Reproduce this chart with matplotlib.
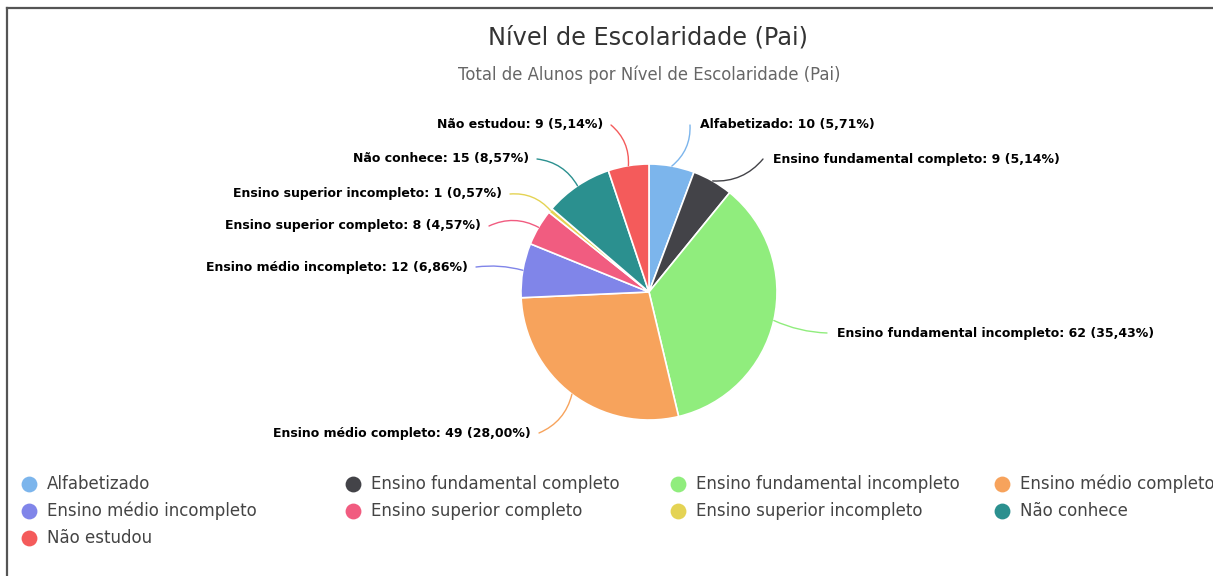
import numpy as np
import matplotlib.pyplot as plt
from matplotlib.lines import Line2D

# ====================== dados ======================
categorias = ['Alfabetizado', 'Ensino fundamental completo', 'Ensino fundamental incompleto',
              'Ensino médio completo', 'Ensino médio incompleto', 'Ensino superior completo',
              'Ensino superior incompleto', 'Não conhece', 'Não estudou']
alunos = [10, 9, 62, 49, 12, 8, 1, 15, 9]
cores = ['#7cb5ec', '#434348', '#90ed7d', '#f7a35c', '#8085e9', '#f15c80',
         '#e4d354', '#2b908f', '#f45b5b']

titulo = 'Nível de Escolaridade (Pai)'
subtitulo = 'Total de Alunos por Nível de Escolaridade (Pai)'

# posição dos rótulos (pixels) e alinhamento
rot_pos = [(700, 125, 'left'), (773, 159, 'left'), (837, 333, 'left'),
           (531, 433, 'right'), (468, 267, 'right'), (481, 226, 'right'),
           (502, 194, 'right'), (529, 159, 'right'), (603, 125, 'right')]
rot_rad = [-0.25, -0.25, -0.1, 0.25, -0.1, -0.25, -0.25, -0.25, -0.25]

W, H = 1213, 576
fig = plt.figure(figsize=(W / 100, H / 100), dpi=100)
ax = fig.add_axes([0, 0, 1, 1])

cx, cy, r = 649, 292, 128
total = sum(alunos)
# eixo y invertido: startangle=-90 fica no topo e o sentido fica horário
wedges, _ = ax.pie(alunos, colors=cores, startangle=-90, counterclock=True,
                   center=(cx, cy), radius=r, frame=True,
                   wedgeprops=dict(edgecolor='white', linewidth=1.2))
ax.set_xlim(0, W)
ax.set_ylim(H, 0)
ax.axis('off')

for i, w in enumerate(wedges):
    ang = np.deg2rad((w.theta1 + w.theta2) / 2)
    px = cx + r * np.cos(ang)
    py = cy + r * np.sin(ang)
    tx, ty, ha = rot_pos[i]
    pct = alunos[i] / total * 100
    txt = f'{categorias[i]}: {alunos[i]} ({pct:.2f}%)'.replace('.', ',')
    ex = tx - 10 if ha == 'left' else tx + 8
    ax.annotate('', xy=(px, py), xytext=(ex, ty),
                arrowprops=dict(arrowstyle='-', color=cores[i], lw=1,
                                shrinkA=0, shrinkB=0,
                                connectionstyle=f'arc3,rad={rot_rad[i]}'))
    ax.text(tx, ty, txt, ha=ha, va='center', fontsize=9, fontweight='bold',
            color='black')

ax.text(648, 37, titulo, ha='center', va='center', fontsize=17.3, color='#333333')
ax.text(649, 75, subtitulo, ha='center', va='center', fontsize=11.9, color='#666666')

# legenda
for i, c in enumerate(categorias):
    lx = 29 + (i % 4) * 324.3
    ly = 484 + (i // 4) * 27
    ax.scatter([lx], [ly], s=130, color=cores[i], zorder=3, linewidths=0)
    ax.text(lx + 18, ly, c, ha='left', va='center', fontsize=12, color='#444444')

# moldura
fig.add_artist(Line2D([7 / W, 1], [1 - 8 / H, 1 - 8 / H], transform=fig.transFigure,
                      color='#555555', lw=1.6))
fig.add_artist(Line2D([7 / W, 7 / W], [0, 1 - 8 / H], transform=fig.transFigure,
                      color='#555555', lw=1.6))

fig.savefig('out.png', dpi=100)
